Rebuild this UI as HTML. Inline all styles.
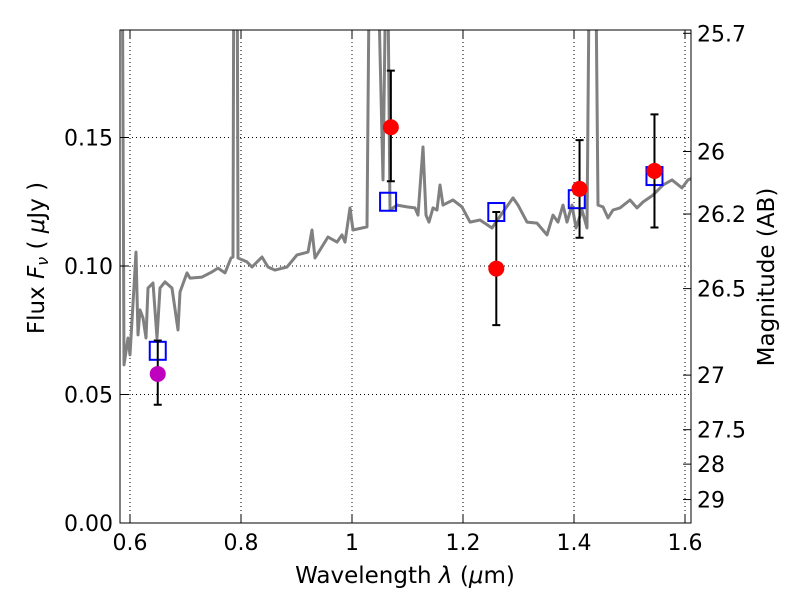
<!DOCTYPE html>
<html><head><meta charset="utf-8"><style>
body{margin:0;background:#fff}
svg text{font-family:"DejaVu Sans","Liberation Sans",sans-serif;fill:#000}
</style></head><body>
<svg id="c" width="800" height="600" xmlns="http://www.w3.org/2000/svg">
<defs><clipPath id="clip"><rect x="120" y="30" width="571" height="493"/></clipPath></defs>
<rect width="800" height="600" fill="#fff"/>
<g id="grid"></g>
<g id="spec" clip-path="url(#clip)"></g>
<g id="marks"></g>
<rect x="120" y="30" width="571" height="493" fill="none" stroke="#000" stroke-width="1"/>
<g id="axes"></g>
<text x="405" y="583" font-size="23" text-anchor="middle">Wavelength  <tspan font-style="italic">λ</tspan> (<tspan font-style="italic">μ</tspan>m)</text>
<text transform="translate(44,258) rotate(-90)" font-size="23" text-anchor="middle">Flux  <tspan font-style="italic">F<tspan font-size="16" dy="4">ν</tspan></tspan><tspan dy="-4">  (  </tspan><tspan font-style="italic">μ</tspan>Jy )</text>
<text transform="translate(774,277) rotate(-90)" font-size="23" text-anchor="middle">Magnitude (AB)</text>
</svg>
<script>
const xTicks=[0.6,0.8,1.0,1.2,1.4,1.6];
const xTickLabels=["0.6","0.8","1","1.2","1.4","1.6"];
const yTicks=[0,0.05,0.10,0.15];
const yTickLabels=["0.00","0.05","0.10","0.15"];
const magTicks=[25.7,26,26.2,26.5,27,27.5,28,29];
const magTickLabels=["25.7","26","26.2","26.5","27","27.5","28","29"];
const specLam=[0.584,0.5856,0.5892,0.5964,0.600,0.6108,0.6144,0.6180,0.6234,0.6288,0.6324,0.6414,0.6486,0.6541,0.6631,0.6757,0.6865,0.6901,0.7027,0.7081,0.7297,0.7477,0.7586,0.7712,0.7820,0.7856,0.7874,0.7928,0.7946,0.8108,0.8198,0.8378,0.8486,0.8613,0.8829,0.9009,0.9207,0.9279,0.9333,0.9568,0.9730,0.9820,0.9874,0.9964,1.0018,1.0270,1.0324,1.0432,1.0559,1.0631,1.0685,1.0811,1.0991,1.1135,1.1189,1.1279,1.1333,1.1387,1.1459,1.1532,1.1586,1.1640,1.1820,1.1982,1.2126,1.2306,1.2523,1.2721,1.2901,1.2991,1.3153,1.3333,1.3514,1.3622,1.3712,1.3802,1.3874,1.3964,1.4036,1.4144,1.4234,1.4288,1.4378,1.4432,1.4523,1.4613,1.4703,1.4829,1.5009,1.5135,1.5243,1.5423,1.5604,1.5766,1.5946,1.6054,1.611];
const specFlux=[0.25,0.25,0.0615,0.0720,0.0654,0.1054,0.0732,0.0829,0.0798,0.0720,0.0914,0.0934,0.0720,0.0914,0.0938,0.0914,0.0751,0.0899,0.0973,0.0953,0.0957,0.0977,0.0992,0.0973,0.1031,0.1035,0.25,0.25,0.1031,0.1016,0.0996,0.1035,0.0996,0.0984,0.0996,0.1043,0.1054,0.1140,0.1031,0.1113,0.1093,0.1121,0.1093,0.1226,0.1140,0.1152,0.25,0.25,0.1335,0.25,0.1218,0.1237,0.1230,0.1226,0.1198,0.1463,0.1198,0.1171,0.1226,0.1218,0.1315,0.1237,0.1257,0.1230,0.1171,0.1179,0.1148,0.1210,0.1265,0.1237,0.1171,0.1167,0.1121,0.1198,0.1171,0.1237,0.1171,0.1237,0.1148,0.1218,0.1148,0.25,0.25,0.1237,0.1230,0.1187,0.1218,0.1226,0.1257,0.1226,0.1249,0.1276,0.1315,0.1335,0.1304,0.1335,0.134];
const modelLam=[0.65,1.065,1.26,1.405,1.545];
const modelFlux=[0.067,0.125,0.121,0.126,0.135];
const obsLam=[0.65,1.07,1.26,1.41,1.545];
const obsFlux=[0.058,0.154,0.099,0.130,0.137];
const obsLo=[0.046,0.133,0.077,0.111,0.115];
const obsHi=[0.071,0.176,0.121,0.149,0.159];
const obsColor=["#bf00bf","#ff0000","#ff0000","#ff0000","#ff0000"];

const NS="http://www.w3.org/2000/svg";
const X=l=>130+(l-0.6)*555;
const Y=f=>523-f*2570;
const magY=m=>Y(Math.pow(10,(23.9-m)/2.5));
function mk(tag,attrs,parent){const e=document.createElementNS(NS,tag);for(const k in attrs)e.setAttribute(k,attrs[k]);document.getElementById(parent).appendChild(e);return e;}

xTicks.forEach((t,i)=>{
  const g=mk('line',{x1:X(t),x2:X(t),y1:30,y2:523,stroke:'#000','stroke-dasharray':'1,3','stroke-width':1},'grid');
  
  
  const a=mk('line',{x1:X(t),x2:X(t),y1:523,y2:515,stroke:'#000'},'axes');
  
  
  const b=mk('line',{x1:X(t),x2:X(t),y1:30,y2:38,stroke:'#000'},'axes');
  
  
  const tx=mk('text',{x:X(t),y:550,'font-size':22,'text-anchor':'middle'},'axes');
  tx.textContent=xTickLabels[i];
  
  
});
yTicks.forEach((t,i)=>{
  if(t>0){const g=mk('line',{x1:120,x2:691,y1:Y(t),y2:Y(t),stroke:'#000','stroke-dasharray':'1,3'},'grid');
  
  }
  const a=mk('line',{x1:120,x2:128,y1:Y(t),y2:Y(t),stroke:'#000'},'axes');
  
  
  const tx=mk('text',{x:113,y:Y(t)+8,'font-size':22,'text-anchor':'end'},'axes');
  tx.textContent=yTickLabels[i];
  
  
});
magTicks.forEach((m,i)=>{
  const y=magY(m);
  const a=mk('line',{x1:683,x2:691,y1:y,y2:y,stroke:'#000'},'axes');
  
  
  const tx=mk('text',{x:697,y:y+8,'font-size':22},'axes');
  tx.textContent=magTickLabels[i];
  
  
});
const pts=specLam.map((l,i)=>X(l).toFixed(1)+','+Y(specFlux[i]).toFixed(1)).join(' ');
const sp=mk('polyline',{points:pts,fill:'none',stroke:'#808080','stroke-width':3,'stroke-linejoin':'round'},'spec');


modelLam.forEach((l,i)=>{
  const r=mk('rect',{x:X(l)-8,y:Y(modelFlux[i])-9,width:16,height:18,fill:'none',stroke:'#0000ff','stroke-width':2},'marks');
  
  
});
obsLam.forEach((l,i)=>{
  const x=X(l);
  const e=mk('path',{d:`M${x},${Y(obsLo[i])}V${Y(obsHi[i])}M${x-4},${Y(obsLo[i])}h8M${x-4},${Y(obsHi[i])}h8`,stroke:'#000','stroke-width':2,fill:'none'},'marks');
  
  
});
obsLam.forEach((l,i)=>{
  const c=mk('circle',{cx:X(l),cy:Y(obsFlux[i]),r:8,fill:obsColor[i]},'marks');
  
  
});
</script>
</body></html>
